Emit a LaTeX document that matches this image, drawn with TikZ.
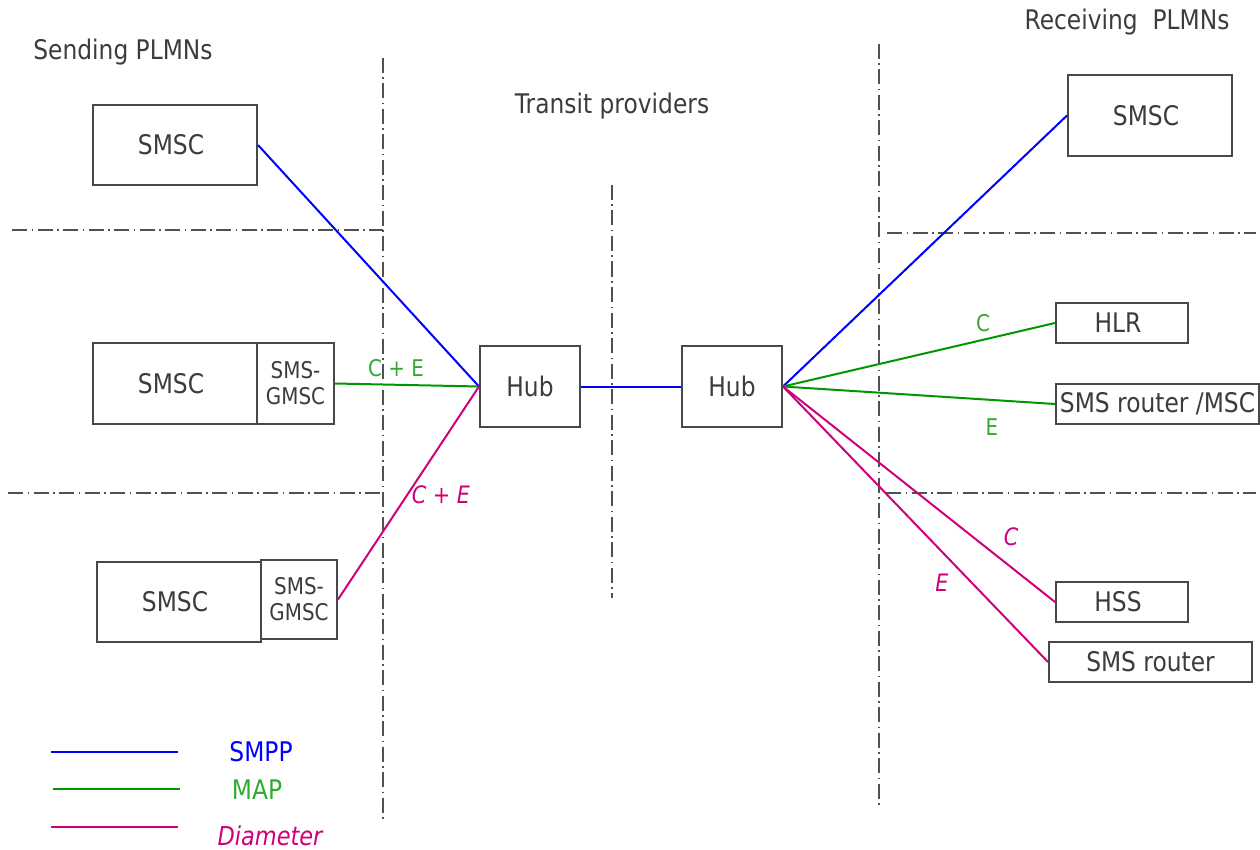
\documentclass[tikz,border=0pt]{standalone}
\usepackage{fontspec}
\setmainfont{DejaVu Sans}[FakeStretch=0.865]
\definecolor{txtgray}{RGB}{60,60,60}
\definecolor{boxgray}{RGB}{72,72,72}
\definecolor{divgray}{RGB}{80,80,80}
\definecolor{smpp}{RGB}{0,0,255}
\definecolor{mapline}{RGB}{0,150,0}
\definecolor{maptext}{RGB}{50,170,50}
\definecolor{diam}{RGB}{208,0,122}
\newcommand{\lpad}{\kern8pt}
\tikzset{
  box/.style={draw=boxgray, line width=2pt, inner sep=0pt, text=txtgray,
    font=\fontsize{27}{31}\selectfont, fill=white},
  smallbox/.style={box, align=center, font=\fontsize{23}{26}\selectfont},
  title/.style={text=txtgray, inner sep=0pt, font=\fontsize{27}{31}\selectfont},
  divider/.style={draw=divgray, line width=1.6pt,
    dash pattern=on 15pt off 4.5pt on 1.5pt off 4.5pt},
  smppln/.style={draw=smpp, line width=2pt},
  mapln/.style={draw=mapline, line width=2pt},
  diamln/.style={draw=diam, line width=2pt},
  maplbl/.style={text=maptext, inner sep=0pt, font=\fontsize{23}{26}\selectfont},
  diamlbl/.style={text=diam, inner sep=0pt, font=\fontsize{24}{27}\selectfont\itshape},
}
\begin{document}
\begin{tikzpicture}[x=1pt, y=-1pt]
\useasboundingbox (0,0) rectangle (1260,850);

% region dividers
\draw[divider] (383,58) -- (383,820);
\draw[divider] (12,230) -- (383,230);
\draw[divider] (8,493) -- (380,493);
\draw[divider] (612,185) -- (612,598);
\draw[divider] (879,44) -- (879,805);
\draw[divider] (887,233) -- (1256,233);
\draw[divider] (886,493) -- (1256,493);

% headings
\node[title] (hsend) at (123,52) {Sending PLMNs};
\node[title] (htransit) at (612,106) {Transit providers};
\node[title] (hrecv) at (1127,22) {Receiving\ \ PLMNs};

% sending side
\node[box, minimum width=164pt, minimum height=80pt] (s1) at (175,145) {SMSC\lpad};
\node[box, minimum width=164pt, minimum height=81pt] (s2) at (175,383.5) {SMSC\lpad};
\node[smallbox, minimum width=77pt, minimum height=81pt] (g2) at (295.5,383.5) {SMS-\\GMSC};
\node[box, minimum width=164pt, minimum height=80pt] (s3) at (179,602) {SMSC\lpad};
\node[smallbox, minimum width=76pt, minimum height=79pt] (g3) at (299,599.5) {SMS-\\GMSC};

% transit hubs
\node[box, minimum width=100pt, minimum height=81pt] (hub1) at (530,386.5) {Hub};
\node[box, minimum width=100pt, minimum height=81pt] (hub2) at (732,386.5) {Hub};

% receiving side
\node[box, minimum width=164pt, minimum height=81pt] (r1) at (1150,115.5) {SMSC\lpad};
\node[box, minimum width=132pt, minimum height=40pt] (hlr) at (1122,323) {HLR\lpad};
\node[box, minimum width=203pt, minimum height=40pt] (msc) at (1157.5,404) {SMS router /MSC};
\node[box, minimum width=132pt, minimum height=40pt] (hss) at (1122,602) {HSS\lpad};
\node[box, minimum width=203pt, minimum height=40pt] (rtr) at (1150.5,662) {SMS router};

% links
\draw[smppln] (s1.east) -- (hub1.west);
\draw[mapln] (g2.east) -- (hub1.west);
\draw[diamln] (g3.east) -- (hub1.west);
\draw[smppln] (hub1.east) -- (hub2.west);
\draw[smppln] (hub2.east) -- (r1.west);
\draw[mapln] (hub2.east) -- (hlr.west);
\draw[mapln] (hub2.east) -- (msc.west);
\draw[diamln] (hub2.east) -- (hss.west);
\draw[diamln] (hub2.east) -- (rtr.west);

% link labels
\node[maplbl] (lce1) at (396,368) {C + E};
\node[diamlbl] (lce2) at (441,495) {C + E};
\node[maplbl] (lc1) at (983,323) {C};
\node[maplbl] (le1) at (992,427) {E};
\node[diamlbl] (lc2) at (1011,537) {C};
\node[diamlbl] (le2) at (942,583) {E};

% legend
\draw[smppln] (51,752) -- (178,752);
\draw[mapln] (53,789) -- (180,789);
\draw[diamln] (51,827) -- (178,827);
\node[text=smpp, inner sep=0pt, font=\fontsize{27}{31}\selectfont] (kSMPP) at (261,752) {SMPP};
\node[text=maptext, inner sep=0pt, font=\fontsize{27}{31}\selectfont] (kMAP) at (257,790) {MAP};
\node[text=diam, inner sep=0pt, font=\fontsize{26}{31}\selectfont\itshape] (kDiam) at (270,836) {Diameter};
\end{tikzpicture}
\end{document}
